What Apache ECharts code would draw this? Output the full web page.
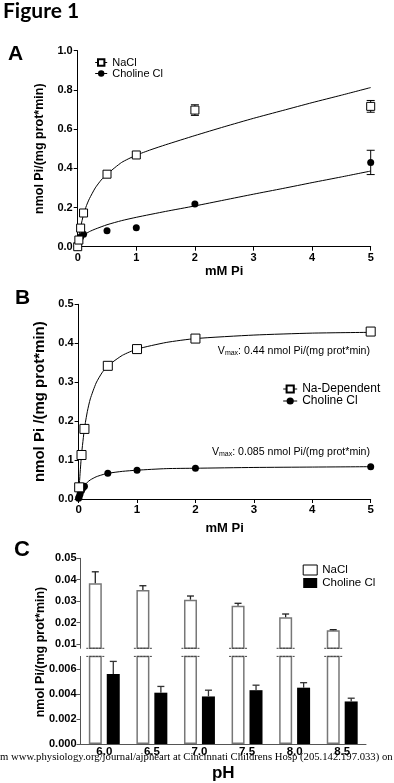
<!DOCTYPE html>
<html>
<head>
<meta charset="utf-8">
<script src="https://cdn.jsdelivr.net/npm/echarts@6/dist/echarts.min.js"></script>
<style>
html,body{margin:0;padding:0;background:#fff;}
#c{width:394px;height:783px;}
</style>
</head>
<body>
<div id="c"></div>
<script>
// ---------- Panel A: uptake vs Pi ----------
const aNaClX = [0, 0.02, 0.05, 0.1, 0.5, 1, 2, 5];
const aNaClY = [0.0, 0.034, 0.095, 0.172, 0.37, 0.468, 0.697, 0.716];
const aNaClErr = [0, 0, 0, 0, 0, 0, 0.027, 0.03];
const aChoX = [0.025, 0.05, 0.1, 0.5, 1, 2, 5];
const aChoY = [0.03, 0.05, 0.063, 0.082, 0.097, 0.218, 0.43];
const aChoErr = [0, 0, 0, 0, 0, 0, 0.062];
// fitted curves
const aNaClFitX = [0, 0.025, 0.05, 0.1, 0.15, 0.2, 0.3, 0.4, 0.5, 0.75, 1, 1.25, 1.5, 2, 2.5, 3, 3.5, 4, 4.5, 5];
const aNaClFitY = [0, 0.06, 0.1, 0.165, 0.21, 0.245, 0.3, 0.34, 0.37, 0.43, 0.467, 0.495, 0.52, 0.567, 0.612, 0.655, 0.695, 0.735, 0.773, 0.812];
const aChoFitX = [0, 0.05, 0.1, 0.2, 0.3, 0.5, 0.75, 1, 1.5, 2, 2.5, 3, 3.5, 4, 4.5, 5];
const aChoFitY = [0.02, 0.043, 0.058, 0.077, 0.09, 0.112, 0.133, 0.15, 0.18, 0.208, 0.238, 0.268, 0.297, 0.327, 0.356, 0.386];

// ---------- Panel B: Michaelis-Menten ----------
const bNaX = [0.01, 0.05, 0.1, 0.5, 1, 2, 5];
const bNaY = [0.03, 0.113, 0.18, 0.342, 0.385, 0.412, 0.43];
const bChoX = [0, 0.01, 0.025, 0.05, 0.075, 0.1, 0.5, 1, 2, 5];
const bChoY = [0.002, 0.006, 0.013, 0.022, 0.029, 0.033, 0.066, 0.074, 0.079, 0.083];
const bFitX = [0, 0.01, 0.025, 0.05, 0.1, 0.15, 0.2, 0.3, 0.4, 0.5, 0.75, 1, 1.5, 2, 3, 4, 5];
const bNaFitY = [0, 0.03, 0.065, 0.114, 0.181, 0.225, 0.257, 0.298, 0.324, 0.342, 0.369, 0.385, 0.402, 0.412, 0.421, 0.426, 0.428];
const bChoFitY = [0, 0.006, 0.013, 0.022, 0.035, 0.043, 0.049, 0.057, 0.062, 0.066, 0.071, 0.074, 0.078, 0.079, 0.081, 0.082, 0.083];

// ---------- Panel C: pH dependence ----------
const pH = ['6.0', '6.5', '7.0', '7.5', '8.0', '8.5'];
const cNaCl = [0.0384, 0.0352, 0.0307, 0.0279, 0.0225, 0.0164];
const cNaClErr = [0.0053, 0.002, 0.0017, 0.0011, 0.0015, 0.0003];
const cCho = [0.0056, 0.0041, 0.0038, 0.0043, 0.0045, 0.0034];
const cChoErr = [0.001, 0.0005, 0.0005, 0.0004, 0.0004, 0.00026];

const cUpperTicks = [0.01, 0.02, 0.03, 0.04, 0.05];
const C_UP_MIN = 0.008, C_UP_MAX = 0.05, C_LO_MIN = 0, C_LO_MAX = 0.007;

const FONT = 'Liberation Sans, Arial, sans-serif';
const zip = (xs, ys) => xs.map((x, i) => [x, ys[i]]);
const zip3 = (xs, ys, es) => xs.map((x, i) => [x, ys[i], es[i]]);

function errXY(cap) {
  return function (params, api) {
    const x = api.value(0), y = api.value(1), e = api.value(2);
    if (!e) return;
    const t = api.coord([x, y + e]), b = api.coord([x, y - e]);
    const st = { stroke: '#000', lineWidth: 1 };
    return { type: 'group', children: [
      { type: 'line', shape: { x1: t[0], y1: t[1], x2: b[0], y2: b[1] }, style: st },
      { type: 'line', shape: { x1: t[0] - cap, y1: t[1], x2: t[0] + cap, y2: t[1] }, style: st },
      { type: 'line', shape: { x1: b[0] - cap, y1: b[1], x2: b[0] + cap, y2: b[1] }, style: st }
    ]};
  };
}
const BAR_OFF = 9; // half distance between the two bars of a group
function errBar(off, color) {
  return function (params, api) {
    const i = api.value(0), y = api.value(1), e = api.value(2);
    const top = api.coord([i, y + e]), base = api.coord([i, y]);
    const x = top[0] + off;
    const st = { stroke: color, lineWidth: 1.3 };
    return { type: 'group', children: [
      { type: 'line', shape: { x1: x, y1: base[1], x2: x, y2: top[1] }, style: st },
      { type: 'line', shape: { x1: x - 3.5, y1: top[1], x2: x + 3.5, y2: top[1] }, style: st }
    ]};
  };
}
function breakMark(level) {
  return function (params, api) {
    const i = api.value(0);
    const p = api.coord([i, level]);
    const x = p[0] - BAR_OFF;
    return { type: 'line', shape: { x1: x - 9, y1: p[1], x2: x + 10, y2: p[1] },
      style: { stroke: '#444', lineWidth: 1, lineDash: [2, 1.2] } };
  };
}

const axisLbl = (fs, fmt, margin) => ({ fontFamily: FONT, fontWeight: 'bold', fontSize: fs, color: '#000', formatter: fmt, margin: margin });
const blackLine = { lineStyle: { color: '#000', width: 1 } };

const chart = echarts.init(document.getElementById('c'), null, { renderer: 'canvas' });

const ptLine = { opacity: 0 };
const sq = (size) => ({ symbol: 'rect', symbolSize: size, itemStyle: { color: '#fff', borderColor: '#000', borderWidth: 1 } });
const dot = (size) => ({ symbol: 'circle', symbolSize: size, itemStyle: { color: '#000' } });
const fitLine = { smooth: 0.2, showSymbol: false, lineStyle: { color: '#000', width: 1 }, silent: true };

const option = {
  animation: false,
  backgroundColor: '#fff',
  grid: [
    { left: 77.7, right: 23.3, top: 50.7, height: 196 },
    { left: 78.6, right: 23.3, top: 304.3, height: 194.7 },
    { left: 80.5, right: 28, top: 558.3, height: 90 },
    { left: 80.5, right: 28, top: 656.4, height: 90.3 }
  ],
  xAxis: [
    { gridIndex: 0, type: 'value', min: 0, max: 5, interval: 1,
      axisLine: blackLine, axisTick: { length: 4, lineStyle: { color: '#000' } }, splitLine: { show: false },
      axisLabel: axisLbl(11, null, 6),
      name: 'mM Pi', nameLocation: 'middle', nameGap: 16,
      nameTextStyle: { fontFamily: FONT, fontWeight: 'bold', fontSize: 13, color: '#000' } },
    { gridIndex: 1, type: 'value', min: 0, max: 5, interval: 1,
      axisLine: blackLine, axisTick: { length: 4, lineStyle: { color: '#000' } }, splitLine: { show: false },
      axisLabel: axisLbl(11.5, null, 5),
      name: 'mM Pi', nameLocation: 'middle', nameGap: 23,
      nameTextStyle: { fontFamily: FONT, fontWeight: 'bold', fontSize: 13, color: '#000' } },
    { gridIndex: 2, type: 'category', data: pH, show: false },
    { gridIndex: 3, type: 'category', data: pH,
      axisLine: { lineStyle: { color: '#555', width: 1 } }, axisTick: { show: false },
      axisLabel: axisLbl(11.5, null, 2),
      name: 'pH', nameLocation: 'middle', nameGap: 21,
      nameTextStyle: { fontFamily: FONT, fontWeight: 'bold', fontSize: 17, color: '#000' } }
  ],
  yAxis: [
    { gridIndex: 0, type: 'value', min: 0, max: 1, interval: 0.2,
      axisLine: { show: true, lineStyle: { color: '#000' } }, axisTick: { show: true, length: 4, lineStyle: { color: '#000' } },
      splitLine: { show: false }, axisLabel: axisLbl(11, v => v.toFixed(1), 5),
      name: 'nmol Pi/(mg prot*min)', nameLocation: 'middle', nameGap: 19,
      nameTextStyle: { fontFamily: FONT, fontWeight: 'bold', fontSize: 12.5, color: '#000' } },
    { gridIndex: 1, type: 'value', min: 0, max: 0.5, interval: 0.1,
      axisLine: { show: true, lineStyle: { color: '#000' } }, axisTick: { show: true, length: 4, lineStyle: { color: '#000' } },
      splitLine: { show: false }, axisLabel: axisLbl(11, v => v.toFixed(1), 5),
      name: 'nmol Pi /(mg prot*min)', nameLocation: 'middle', nameGap: 22,
      nameTextStyle: { fontFamily: FONT, fontWeight: 'bold', fontSize: 15, color: '#000' } },
    { gridIndex: 2, type: 'value', min: C_UP_MIN, max: C_UP_MAX,
      axisLine: { show: true, lineStyle: { color: '#555' } },
      axisTick: { show: true, length: 4, lineStyle: { color: '#555' }, customValues: cUpperTicks },
      splitLine: { show: false },
      axisLabel: Object.assign(axisLbl(11, v => v.toFixed(2), 4), { customValues: cUpperTicks }) },
    { gridIndex: 3, type: 'value', min: C_LO_MIN, max: C_LO_MAX, interval: 0.002,
      axisLine: { show: true, lineStyle: { color: '#555' } },
      axisTick: { show: true, length: 4, lineStyle: { color: '#555' } },
      splitLine: { show: false },
      axisLabel: Object.assign(axisLbl(11, v => v.toFixed(3), 4), { showMaxLabel: false }) }
  ],
  legend: [
    { data: ['A: NaCl', 'A: Choline Cl'], orient: 'vertical', left: 89.7, top: 52,
      itemWidth: 12, itemHeight: 8, itemGap: 0, formatter: n => n.slice(3),
      textStyle: { fontFamily: FONT, fontSize: 11, color: '#000' },
      lineStyle: { color: '#000', width: 1, opacity: 1 }, selectedMode: false },
    { data: ['B: Na-Dependent', 'B: Choline Cl'], orient: 'vertical', left: 277.7, top: 378,
      itemWidth: 14, itemHeight: 9, itemGap: 0, formatter: n => n.slice(3),
      textStyle: { fontFamily: FONT, fontSize: 12, color: '#000' },
      lineStyle: { color: '#000', width: 1, opacity: 1 }, selectedMode: false },
    { data: [{ name: 'C: NaCl', itemStyle: { borderColor: '#000', borderWidth: 1 } }, 'C: Choline Cl'],
      orient: 'vertical', left: 297.7, top: 559,
      itemWidth: 14, itemHeight: 10, itemGap: 1, formatter: n => n.slice(3), icon: 'rect',
      textStyle: { fontFamily: FONT, fontSize: 11.5, color: '#000' }, selectedMode: false }
  ],
  graphic: [
    { type: 'text', left: 3, top: 1, style: { text: 'Figure 1', font: 'bold 21px Lato, sans-serif', fill: '#000' } },
    { type: 'text', x: 8, y: 54.5, style: { text: 'A', font: 'bold 21px ' + FONT, fill: '#000', verticalAlign: 'middle' } },
    { type: 'text', x: 15, y: 298.5, style: { text: 'B', font: 'bold 21px ' + FONT, fill: '#000', verticalAlign: 'middle' } },
    { type: 'text', x: 14, y: 550, style: { text: 'C', font: 'bold 22px ' + FONT, fill: '#000', verticalAlign: 'middle' } },
    { type: 'text', x: 370, y: 351, style: {
        text: 'V{s|max}: 0.44 nmol Pi/(mg prot*min)', align: 'right', verticalAlign: 'middle',
        font: '10.6px ' + FONT, fill: '#000', rich: { s: { fontSize: 7, padding: [5, 0, 0, 0], fontFamily: FONT } } } },
    { type: 'text', x: 370, y: 452, style: {
        text: 'V{s|max}: 0.085 nmol Pi/(mg prot*min)', align: 'right', verticalAlign: 'middle',
        font: '10.6px ' + FONT, fill: '#000', rich: { s: { fontSize: 7, padding: [5, 0, 0, 0], fontFamily: FONT } } } },
    { type: 'text', x: 41, y: 652, rotation: Math.PI / 2, style: {
        text: 'nmol Pi/(mg prot*min)', align: 'center', verticalAlign: 'middle',
        font: 'bold 12.5px ' + FONT, fill: '#000' } },
    { type: 'text', x: 0, y: 757.5, z: 100, style: {
        text: 'm www.physiology.org/journal/ajpheart at Cincinnati Childrens Hosp (205.142.197.033) on',
        verticalAlign: 'middle', font: '10.7px Liberation Serif, serif', fill: '#000' } }
  ],
  series: [
    // Panel A
    Object.assign({ name: 'A fit NaCl', type: 'line', xAxisIndex: 0, yAxisIndex: 0, data: zip(aNaClFitX, aNaClFitY) }, fitLine),
    Object.assign({ name: 'A fit Cho', type: 'line', xAxisIndex: 0, yAxisIndex: 0, data: zip(aChoFitX, aChoFitY) }, fitLine),
    { name: 'A err NaCl', type: 'custom', xAxisIndex: 0, yAxisIndex: 0, data: zip3(aNaClX, aNaClY, aNaClErr), renderItem: errXY(4), silent: true },
    { name: 'A err Cho', type: 'custom', xAxisIndex: 0, yAxisIndex: 0, data: zip3(aChoX, aChoY, aChoErr), renderItem: errXY(4), silent: true },
    Object.assign({ name: 'A: Choline Cl', type: 'line', xAxisIndex: 0, yAxisIndex: 0, data: zip(aChoX, aChoY), lineStyle: ptLine, z: 3 }, dot(7)),
    Object.assign({ name: 'A: NaCl', type: 'line', xAxisIndex: 0, yAxisIndex: 0, data: zip(aNaClX, aNaClY), lineStyle: ptLine, z: 4 }, sq(8)),
    // Panel B
    Object.assign({ name: 'B fit Na', type: 'line', xAxisIndex: 1, yAxisIndex: 1, data: zip(bFitX, bNaFitY) }, fitLine),
    Object.assign({ name: 'B fit Cho', type: 'line', xAxisIndex: 1, yAxisIndex: 1, data: zip(bFitX, bChoFitY) }, fitLine),
    Object.assign({ name: 'B: Choline Cl', type: 'line', xAxisIndex: 1, yAxisIndex: 1, data: zip(bChoX, bChoY), lineStyle: ptLine, z: 3 }, dot(7)),
    Object.assign({ name: 'B: Na-Dependent', type: 'line', xAxisIndex: 1, yAxisIndex: 1, data: zip(bNaX, bNaY), lineStyle: ptLine, z: 4 }, sq(9)),
    // Panel C upper
    { name: 'C: NaCl', type: 'bar', xAxisIndex: 2, yAxisIndex: 2, data: cNaCl, barWidth: 13, barGap: '38%',
      itemStyle: { color: '#fff', borderColor: '#777', borderWidth: 1.5 } },
    { name: 'C: Choline Cl', type: 'bar', xAxisIndex: 2, yAxisIndex: 2, data: cCho, barWidth: 13, barGap: '38%',
      itemStyle: { color: '#000' } },
    { name: 'C err NaCl', type: 'custom', xAxisIndex: 2, yAxisIndex: 2, data: zip3(pH.map((p, i) => i), cNaCl, cNaClErr),
      renderItem: errBar(-BAR_OFF, '#222'), silent: true, z: 5 },
    { name: 'C break up', type: 'custom', xAxisIndex: 2, yAxisIndex: 2, data: pH.map((p, i) => [i]),
      renderItem: breakMark(C_UP_MIN), silent: true, z: 6, clip: false },
    // Panel C lower
    { name: 'C lo NaCl', type: 'bar', xAxisIndex: 3, yAxisIndex: 3, data: cNaCl, barWidth: 13, barGap: '38%',
      itemStyle: { color: '#fff', borderColor: '#777', borderWidth: 1.5 } },
    { name: 'C lo Cho', type: 'bar', xAxisIndex: 3, yAxisIndex: 3, data: cCho, barWidth: 13, barGap: '38%',
      itemStyle: { color: '#000' } },
    { name: 'C err Cho', type: 'custom', xAxisIndex: 3, yAxisIndex: 3, data: zip3(pH.map((p, i) => i), cCho, cChoErr),
      renderItem: errBar(BAR_OFF, '#333'), silent: true, z: 5 },
    { name: 'C break lo', type: 'custom', xAxisIndex: 3, yAxisIndex: 3, data: pH.map((p, i) => [i]),
      renderItem: breakMark(C_LO_MAX), silent: true, z: 6, clip: false }
  ]
};
chart.setOption(option);
</script>
</body>
</html>
